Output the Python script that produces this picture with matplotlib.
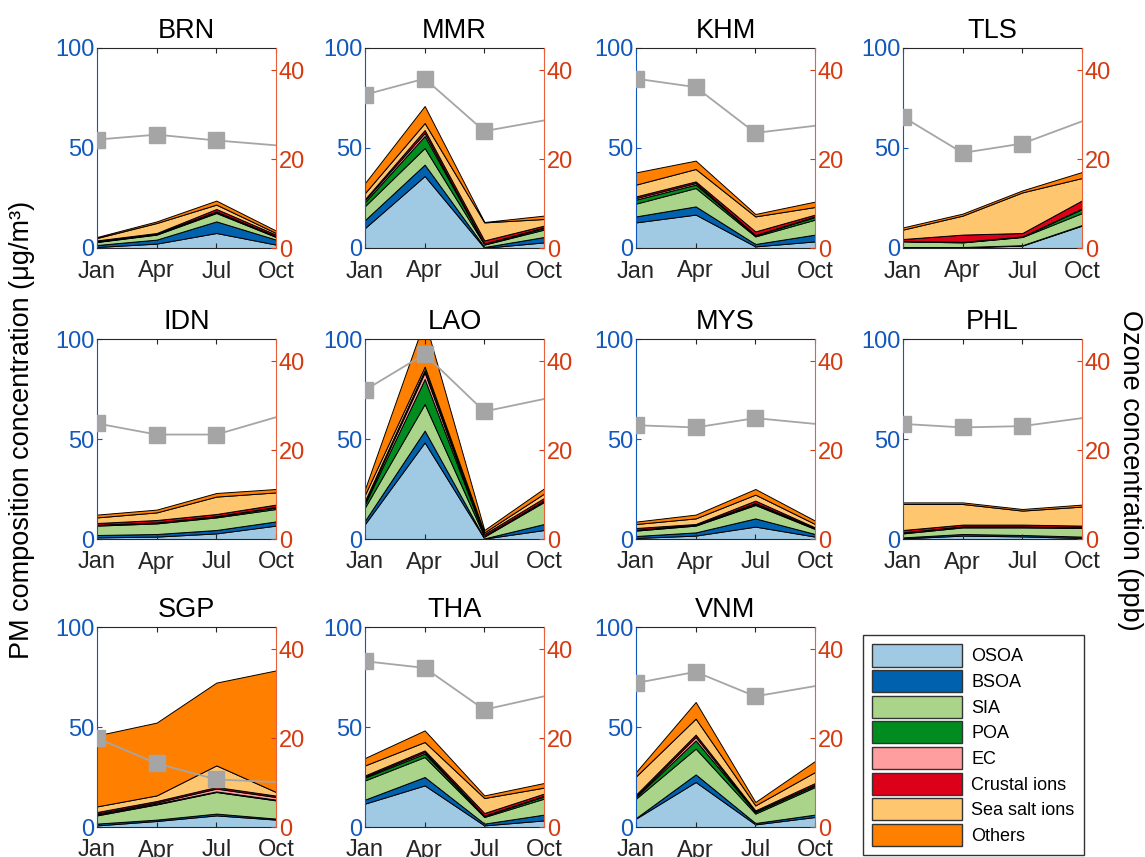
import matplotlib
matplotlib.use('Agg')
import matplotlib.pyplot as plt
from matplotlib.patches import Patch

plt.rcParams['font.family'] = ['Liberation Sans', 'DejaVu Sans']

months = ['Jan', 'Apr', 'Jul', 'Oct']
species = ['OSOA', 'BSOA', 'SIA', 'POA', 'EC', 'Crustal ions', 'Sea salt ions', 'Others']
species_colors = ['#A0CAE4', '#0062AE', '#AAD48A', '#008C1E', '#FF9E9E', '#DC0018', '#FFC670', '#FF7F00']
countries = ['BRN', 'MMR', 'KHM', 'TLS', 'IDN', 'LAO', 'MYS', 'PHL', 'SGP', 'THA', 'VNM']

# PM composition (ug/m3); rows = species (OSOA..Others), columns = Jan, Apr, Jul, Oct
BRN = [[0.5, 2.2, 7.5, 1.7], [1.0, 2.0, 5.8, 2.5], [1.5, 2.5, 4.2, 1.3], [0.2, 0.3, 0.5, 0.3],
       [0.1, 0.2, 0.3, 0.1], [0.5, 0.3, 1.2, 0.8], [1.2, 5.0, 2.2, 0.8], [0.5, 0.8, 2.0, 1.2]]
MMR = [[10.0, 36.0, 0.1, 2.8], [4.0, 5.7, 0.4, 2.7], [7.0, 8.3, 1.2, 3.7], [2.0, 6.0, 0.3, 0.8],
       [1.0, 1.5, 0.2, 0.3], [0.5, 1.5, 1.6, 0.9], [3.0, 3.5, 9.0, 3.3], [5.0, 8.5, 0.2, 1.7]]
KHM = [[12.8, 16.7, 0.8, 3.3], [3.0, 4.1, 1.2, 3.4], [6.4, 9.2, 3.8, 7.5], [2.0, 1.7, 0.5, 1.3],
       [0.8, 0.8, 0.2, 0.3], [0.8, 0.8, 1.8, 0.9], [5.9, 6.2, 7.5, 3.8], [6.1, 4.2, 1.2, 2.7]]
TLS = [[0.3, 0.3, 1.2, 11.2], [0.2, 0.2, 0.2, 0.3], [2.8, 2.3, 4.1, 6.0], [0.2, 0.2, 0.2, 2.0],
       [0.1, 0.1, 0.1, 0.3], [0.9, 3.6, 1.7, 4.0], [4.7, 9.5, 20.3, 11.2], [1.1, 1.0, 1.0, 3.0]]
IDN = [[0.8, 1.2, 2.8, 6.7], [1.2, 1.3, 1.7, 2.1], [4.7, 5.3, 6.3, 6.2], [0.3, 0.4, 0.5, 0.8],
       [0.1, 0.1, 0.1, 0.2], [0.9, 1.2, 1.1, 1.2], [2.8, 3.8, 8.7, 6.1], [1.4, 1.4, 1.8, 1.7]]
LAO = [[7.5, 48.3, 0.2, 4.5], [1.7, 5.9, 0.1, 3.0], [6.6, 13.3, 0.9, 11.0], [1.7, 12.5, 0.3, 0.5],
       [0.8, 3.3, 0.1, 0.3], [0.9, 1.2, 0.9, 1.2], [3.0, 1.7, 0.8, 2.2], [2.8, 23.3, 1.2, 2.6]]
MYS = [[0.5, 1.7, 6.2, 1.2], [1.0, 1.6, 4.1, 1.3], [2.7, 3.4, 6.7, 2.5], [0.3, 0.3, 0.5, 0.3],
       [0.1, 0.1, 0.5, 0.1], [0.9, 0.4, 1.2, 0.4], [2.0, 2.8, 3.0, 1.7], [1.2, 1.9, 2.8, 1.7]]
PHL = [[0.3, 1.7, 1.3, 0.5], [0.5, 0.8, 0.7, 0.7], [2.0, 3.3, 3.8, 4.3], [0.4, 0.4, 0.4, 0.3],
       [0.1, 0.1, 0.1, 0.1], [1.2, 0.9, 0.9, 0.8], [13.0, 10.3, 7.0, 9.5], [0.8, 0.8, 0.8, 1.0]]
SGP = [[0.8, 3.0, 5.8, 3.7], [0.9, 0.7, 0.9, 0.5], [4.1, 7.6, 10.8, 9.1], [0.4, 0.4, 0.3, 0.4],
       [0.5, 0.6, 1.4, 1.3], [0.8, 0.7, 0.8, 0.7], [2.8, 2.8, 10.8, 1.8], [35.5, 36.4, 41.4, 60.8]]
THA = [[11.7, 20.8, 0.8, 3.3], [2.0, 4.2, 0.9, 2.9], [9.6, 10.0, 3.3, 8.0], [1.4, 1.7, 0.5, 1.1],
       [0.5, 0.8, 0.2, 0.3], [0.6, 0.8, 1.3, 1.1], [5.0, 4.2, 7.5, 3.0], [3.7, 5.8, 1.3, 2.3]]
VNM = [[4.2, 22.5, 1.3, 5.0], [0.3, 3.8, 0.7, 1.2], [9.7, 12.9, 4.7, 13.8], [0.8, 4.1, 0.8, 0.8],
       [0.4, 1.7, 0.2, 0.3], [0.8, 1.2, 0.6, 0.9], [9.1, 8.0, 2.5, 5.5], [2.2, 8.3, 1.7, 5.5]]

# Ozone (ppb), Jan, Apr, Jul, Oct
BRN_O3 = [24.4, 25.5, 24.2, 23.1]
MMR_O3 = [34.5, 38.1, 26.3, 28.7]
KHM_O3 = [38.1, 36.2, 25.9, 27.5]
TLS_O3 = [29.5, 21.4, 23.5, 28.5]
IDN_O3 = [26.0, 23.5, 23.5, 27.4]
LAO_O3 = [33.5, 41.6, 28.7, 31.5]
MYS_O3 = [25.6, 25.1, 27.2, 25.9]
PHL_O3 = [25.9, 25.1, 25.4, 27.2]
SGP_O3 = [20.0, 14.3, 10.7, 10.1]
THA_O3 = [37.3, 35.8, 26.4, 29.4]
VNM_O3 = [32.4, 34.9, 29.4, 31.7]

pm_data = {'BRN': BRN, 'MMR': MMR, 'KHM': KHM, 'TLS': TLS, 'IDN': IDN, 'LAO': LAO,
           'MYS': MYS, 'PHL': PHL, 'SGP': SGP, 'THA': THA, 'VNM': VNM}
o3_data = {'BRN': BRN_O3, 'MMR': MMR_O3, 'KHM': KHM_O3, 'TLS': TLS_O3, 'IDN': IDN_O3,
           'LAO': LAO_O3, 'MYS': MYS_O3, 'PHL': PHL_O3, 'SGP': SGP_O3, 'THA': THA_O3,
           'VNM': VNM_O3}

LEFT_C = '#1258BC'
RIGHT_C = '#D63A10'
TXT_C = '#262626'

W, H = 1145, 857
fig = plt.figure(figsize=(W / 100, H / 100), dpi=100)

col_left = [97, 365, 636, 903]
row_top = [48, 339, 627]
aw, ah = 179, 200

x = list(range(len(months)))
for i, c in enumerate(countries):
    r, k = divmod(i, 4)
    ax = fig.add_axes([col_left[k] / W, 1 - (row_top[r] + ah) / H, aw / W, ah / H])
    ax.stackplot(x, pm_data[c], colors=species_colors, edgecolor='k', linewidth=0.7)
    ax.set_xlim(0, 3)
    ax.set_ylim(0, 100)
    ax.set_xticks(x)
    ax.set_xticklabels(months)
    ax.set_yticks([0, 50, 100])
    ax.tick_params(axis='x', direction='in', top=True, length=3.5, labelsize=17,
                   labelcolor=TXT_C, pad=9, color=TXT_C)
    ax.tick_params(axis='y', direction='in', length=3.5, labelsize=17,
                   labelcolor=LEFT_C, color=LEFT_C, pad=2)
    ax.spines['left'].set_color(LEFT_C)
    ax.spines['right'].set_visible(False)
    for s in ('top', 'bottom'):
        ax.spines[s].set_color(TXT_C)
    ax.set_title(c, fontsize=19.5, pad=7)

    ax2 = ax.twinx()
    ax2.plot(x, o3_data[c], color='#A5A5A5', lw=1.3, marker='s', markersize=11,
             markevery=[0, 1, 2], zorder=5, clip_on=True)
    ax2.set_ylim(0, 45)
    ax2.set_yticks([0, 20, 40])
    ax2.tick_params(axis='y', direction='in', length=3.5, labelsize=17,
                    labelcolor=RIGHT_C, color=RIGHT_C, pad=2)
    for s in ('left', 'top', 'bottom'):
        ax2.spines[s].set_visible(False)
    ax2.spines['right'].set_color('#E8603A')

fig.text(22 / W, 1 - 430 / H, 'PM composition concentration (μg/m³)', rotation=90,
         ha='center', va='center', fontsize=19.5, color='black')
fig.text(1130 / W, 1 - 470 / H, 'Ozone concentration (ppb)', rotation=-90,
         ha='center', va='center', fontsize=19.5, color='black')

handles = [Patch(facecolor=col, edgecolor='#333333', linewidth=1.0) for col in species_colors]
leg = fig.legend(handles, species, loc='lower left', bbox_to_anchor=(863 / W, 1 - 855 / H),
                 borderaxespad=0, fontsize=13, handlelength=5, handleheight=1.5,
                 labelspacing=0.2, borderpad=0.5, handletextpad=0.5, fancybox=False,
                 frameon=True, edgecolor='black')
leg.get_frame().set_linewidth(1.0)

fig.savefig('out.png', dpi=100)
